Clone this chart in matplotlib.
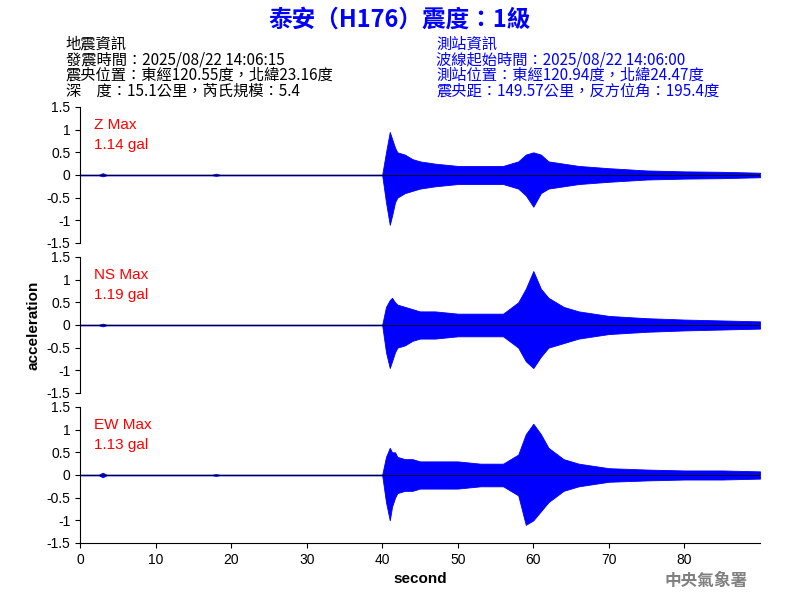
import numpy as np
import matplotlib
matplotlib.use('Agg')
import matplotlib.pyplot as plt

plt.rcParams['font.family'] = ['Noto Sans CJK TC', 'DejaVu Sans']

# envelope of each trace (seconds, upper, lower)
t = [0, 2.5, 3, 3.5, 4, 17.5, 18, 18.5, 40, 40.5, 41, 41.3, 41.7, 42, 43, 44, 45, 47, 50, 53, 56, 58,
     59, 60, 61, 62, 64, 66, 70, 75, 80, 85, 90]
z_up = [0.01, 0.01, 0.04, 0.01, 0.01, 0.01, 0.03, 0.01, 0.01, 0.5, 0.95, 0.8, 0.6, 0.5, 0.45, 0.35, 0.3, 0.25,
        0.2, 0.2, 0.2, 0.3, 0.45, 0.5, 0.45, 0.3, 0.25, 0.2, 0.15, 0.1, 0.08, 0.07, 0.05]
z_lo = [-0.01, -0.01, -0.03, -0.01, -0.01, -0.01, -0.02, -0.01, -0.01, -0.6, -1.1, -0.9, -0.6, -0.5, -0.4, -0.35, -0.3, -0.25,
        -0.2, -0.2, -0.2, -0.3, -0.45, -0.7, -0.4, -0.3, -0.25, -0.2, -0.15, -0.1, -0.08, -0.07, -0.05]
ns_up = [0.01, 0.01, 0.03, 0.01, 0.01, 0.01, 0.01, 0.01, 0.01, 0.4, 0.55, 0.6, 0.5, 0.45, 0.4, 0.35, 0.3, 0.3,
         0.25, 0.25, 0.25, 0.5, 0.8, 1.19, 0.8, 0.6, 0.4, 0.3, 0.2, 0.15, 0.12, 0.1, 0.08]
ns_lo = [-0.01, -0.01, -0.03, -0.01, -0.01, -0.01, -0.01, -0.01, -0.01, -0.6, -0.95, -0.8, -0.6, -0.5, -0.45, -0.35, -0.3, -0.3,
         -0.25, -0.25, -0.25, -0.5, -0.8, -0.95, -0.7, -0.5, -0.4, -0.3, -0.2, -0.15, -0.12, -0.1, -0.08]
ew_up = [0.01, 0.01, 0.05, 0.01, 0.01, 0.01, 0.02, 0.01, 0.01, 0.4, 0.6, 0.5, 0.5, 0.4, 0.35, 0.35, 0.3, 0.3,
         0.3, 0.25, 0.25, 0.45, 0.9, 1.13, 0.9, 0.6, 0.35, 0.25, 0.15, 0.12, 0.1, 0.1, 0.08]
ew_lo = [-0.01, -0.01, -0.05, -0.01, -0.01, -0.01, -0.02, -0.01, -0.01, -0.6, -1.0, -0.7, -0.5, -0.4, -0.35, -0.35, -0.3, -0.3,
         -0.3, -0.25, -0.25, -0.45, -1.1, -1.0, -0.8, -0.6, -0.35, -0.25, -0.15, -0.12, -0.1, -0.1, -0.08]

names = ['Z Max\n1.14 gal', 'NS Max\n1.19 gal', 'EW Max\n1.13 gal']
ups = [z_up, ns_up, ew_up]
los = [z_lo, ns_lo, ew_lo]

fig = plt.figure(figsize=(8, 6), dpi=100)
tops = [0.8217, 0.5717, 0.3217]
h = 0.2267
axes = []
for i in range(3):
    ax = fig.add_axes([0.1, tops[i] - h, 0.85, h])
    ax.fill_between(t, los[i], ups[i], color='blue', lw=0.6)
    ax.plot([0, 90], [0, 0], color='black', lw=0.6)
    ax.set_xlim(0, 90)
    ax.set_ylim(-1.5, 1.5)
    ax.set_yticks([-1.5, -1, -0.5, 0, 0.5, 1, 1.5])
    ax.set_yticklabels(['-1.5', '-1', '-0.5', '0', '0.5', '1', '1.5'], fontfamily='Liberation Sans')
    for s in ['top', 'right']:
        ax.spines[s].set_visible(False)
    ax.text(0.02, 0.92, names[i], transform=ax.transAxes, color='red', fontsize=11,
            va='top', linespacing=1.6, fontfamily='Liberation Sans')
    if i < 2:
        ax.spines['bottom'].set_visible(False)
        ax.set_xticks([])
    else:
        ax.set_xticks([0, 10, 20, 30, 40, 50, 60, 70, 80])
        ax.set_xticklabels([str(v) for v in [0, 10, 20, 30, 40, 50, 60, 70, 80]], fontfamily='Liberation Sans')
        ax.set_xlabel('second', fontsize=11, fontweight='bold', fontfamily='Liberation Sans')
    ax.tick_params(labelsize=10)
    axes.append(ax)
axes[1].set_ylabel('acceleration', fontsize=11, fontweight='bold', fontfamily='Liberation Sans')

fig.text(0.5, 0.968, '泰安（H176）震度：1級', color='blue', fontsize=17, fontweight='bold', ha='center', va='center')
left = ['地震資訊', '發震時間：2025/08/22 14:06:15', '震央位置：東經120.55度，北緯23.16度', '深　度：15.1公里，芮氏規模：5.4']
right = ['測站資訊', '波線起始時間：2025/08/22 14:06:00', '測站位置：東經120.94度，北緯24.47度', '震央距：149.57公里，反方位角：195.4度']
for k in range(4):
    fig.text(0.082, 0.927 - k * 0.0262, left[k], color='black', fontsize=11, va='center')
    fig.text(0.545, 0.927 - k * 0.0262, right[k], color='blue', fontsize=11, va='center')
fig.text(0.935, 0.032, '中央氣象署', color='gray', fontsize=12, ha='right', va='center', fontweight='bold')

fig.savefig('out.png', dpi=100)
